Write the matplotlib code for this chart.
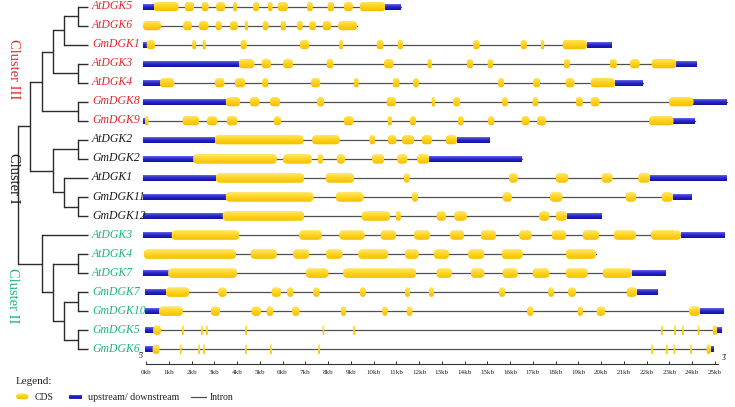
import numpy as np
import matplotlib
matplotlib.use('Agg')
import matplotlib.pyplot as plt
from matplotlib.patches import FancyBboxPatch, Rectangle
from matplotlib.colors import LinearSegmentedColormap

plt.rcParams['font.family'] = ['Liberation Serif', 'DejaVu Serif']

# =========================
# DATA (kb)
# =========================
genes = ['AtDGK5', 'AtDGK6', 'GmDGK1', 'AtDGK3', 'AtDGK4', 'GmDGK8', 'GmDGK9',
         'AtDGK2', 'GmDGK2', 'AtDGK1', 'GmDGK11', 'GmDGK12',
         'AtDGK3', 'AtDGK4', 'AtDGK7', 'GmDGK7', 'GmDGK10', 'GmDGK5', 'GmDGK6']
cluster = ['III'] * 7 + ['I'] * 5 + ['II'] * 7

utr = [
    [(-0.15, 0.35), (10.50, 11.19)],
    [],
    [(-0.15, 0.03), (19.36, 20.43)],
    [(-0.15, 4.09), (23.29, 24.17)],
    [(-0.15, 0.62), (20.59, 21.82)],
    [(-0.15, 3.51), (24.05, 25.54)],
    [(-0.15, -0.04), (23.17, 24.12)],
    [(-0.12, 3.03), (13.65, 15.08)],
    [(-0.12, 2.08), (12.44, 16.50)],
    [(-0.12, 3.08), (22.14, 25.48)],
    [(-0.12, 3.51), (23.14, 23.95)],
    [(-0.12, 3.37), (18.48, 19.98)],
    [(-0.12, 1.13), (23.49, 25.41)],
    [],
    [(-0.12, 0.98), (21.34, 22.80)],
    [(-0.04, 0.88), (21.56, 22.47)],
    [(-0.04, 0.58), (24.34, 25.36)],
    [(-0.04, 0.32), (25.08, 25.26)],
    [(-0.04, 0.29), (24.81, 24.93)],
]

cds = [
    [(0.35, 1.42), (1.71, 2.11), (2.45, 2.74), (3.08, 3.47), (3.84, 3.99), (4.71, 4.96),
     (5.37, 5.55), (5.79, 6.23), (7.09, 7.32), (7.98, 8.26), (8.70, 9.08), (9.40, 10.50)],
    [(-0.12, 0.65), (1.64, 2.01), (2.33, 2.74), (3.06, 3.32), (3.69, 4.03), (4.34, 4.47),
     (5.13, 5.37), (5.92, 6.14), (6.65, 6.87), (7.18, 7.46), (7.76, 8.13), (8.45, 9.26)],
    [(0.03, 0.39), (2.04, 2.20), (2.49, 2.62), (4.16, 4.42), (6.77, 7.16), (8.50, 8.64),
     (10.14, 10.43), (11.06, 11.28), (14.38, 14.65), (16.46, 16.73), (17.35, 17.49), (18.31, 19.36)],
    [(4.09, 4.76), (5.08, 5.48), (6.03, 6.45), (7.94, 8.23), (10.46, 10.87), (12.37, 12.55),
     (14.10, 14.36), (15.01, 15.24), (18.37, 18.63), (20.39, 20.68), (21.27, 21.68), (22.22, 23.29)],
    [(0.62, 1.24), (3.03, 3.44), (3.91, 4.35), (5.11, 5.37), (7.25, 7.65), (9.15, 9.33),
     (10.84, 11.13), (11.74, 11.98), (15.48, 15.73), (17.02, 17.31), (18.44, 18.82), (19.54, 20.59)],
    [(3.51, 4.13), (4.57, 4.98), (5.45, 5.89), (7.53, 7.82), (10.57, 10.98), (12.55, 12.70),
     (13.50, 13.80), (15.65, 15.89), (16.99, 17.23), (18.89, 19.19), (19.54, 19.92), (22.98, 24.05)],
    [(-0.04, 0.10), (1.61, 2.33), (2.69, 3.13), (3.55, 4.01), (5.62, 5.92), (8.70, 9.11),
     (10.62, 10.80), (11.60, 11.86), (13.71, 13.94), (15.04, 15.30), (16.51, 16.84), (17.18, 17.57),
     (22.11, 23.17)],
    [(3.03, 6.91), (7.31, 8.50), (9.82, 10.06), (10.63, 11.00), (11.26, 11.78), (12.12, 12.56),
     (13.18, 13.65)],
    [(2.08, 5.74), (6.03, 7.28), (7.55, 7.77), (8.38, 8.74), (9.94, 10.46), (11.04, 11.48),
     (11.92, 12.44)],
    [(3.08, 6.94), (7.90, 9.14), (11.34, 11.57), (15.95, 16.33), (18.01, 18.55), (20.02, 20.49),
     (21.63, 22.14)],
    [(3.51, 7.35), (8.35, 9.55), (11.70, 11.94), (15.67, 16.07), (17.75, 18.29), (21.08, 21.53),
     (22.66, 23.14)],
    [(3.37, 6.94), (9.48, 10.72), (10.98, 11.19), (12.77, 13.18), (13.55, 14.09), (17.28, 17.72),
     (18.01, 18.48)],
    [(1.13, 4.09), (6.74, 7.72), (8.50, 9.60), (10.31, 10.98), (11.78, 12.48), (13.36, 13.97),
     (14.71, 15.37), (16.40, 16.94), (17.83, 18.45), (19.19, 19.90), (20.56, 21.52), (22.19, 23.49)],
    [(-0.09, 3.95), (4.60, 5.74), (6.47, 7.16), (7.91, 8.63), (9.33, 10.64), (11.38, 11.97),
     (12.65, 13.31), (14.16, 14.86), (15.63, 16.55), (18.45, 19.76)],
    [(0.98, 3.99), (7.03, 8.01), (8.67, 11.86), (12.77, 13.43), (14.28, 14.86), (15.67, 16.33),
     (16.99, 17.72), (18.45, 19.40), (20.07, 21.34)],
    [(0.88, 1.89), (3.18, 3.54), (5.52, 5.93), (6.21, 6.47), (7.35, 7.62), (9.40, 9.65),
     (11.38, 11.60), (12.43, 12.65), (15.52, 15.77), (17.68, 17.93), (18.55, 18.89), (21.12, 21.56)],
    [(0.58, 1.61), (2.86, 3.25), (4.64, 5.04), (5.30, 5.59), (6.43, 6.74), (8.57, 8.79),
     (10.39, 10.61), (11.46, 11.70), (16.75, 17.02), (18.97, 19.19), (19.80, 20.17), (23.87, 24.34)],
    [(0.32, 0.65), (1.58, 1.65), (2.42, 2.49), (2.64, 2.71), (4.36, 4.43), (7.76, 7.83),
     (9.11, 9.18), (22.63, 22.70), (23.21, 23.28), (23.55, 23.62), (24.24, 24.31), (24.90, 25.08)],
    [(0.29, 0.59), (1.48, 1.55), (2.30, 2.37), (2.51, 2.58), (4.35, 4.42), (5.45, 5.52),
     (7.57, 7.64), (22.21, 22.28), (22.84, 22.91), (23.18, 23.25), (23.92, 23.99), (24.63, 24.81)],
]

kb_ticks = list(range(26))

# tree: (node x in px, child, child); leaves = row numbers
tree = (17.7,
        (30, (41.7, (53.3, (64.3, (77.7, 0, 1), 2), (77.7, 3, 4)), (77.7, 5, 6)),
             (53.3, (77.7, 7, 8), (64.3, 9, (77.7, 10, 11)))),
        (41.7, 12, (53.3, (77.7, 13, 14), (64.3, (77.7, 15, 16), (77.7, 17, 18)))))

cluster_col = {'III': '#E5262B', 'I': '#1a1a1a', 'II': '#1BB57A'}

# =========================
# LAYOUT
# =========================
W, H = 735, 407
X0, PXKB = 146, 22.76      # pixel of 0kb, px per kb
Y0, PXROW = 6.7, 19.03     # pixel of row 0, px per row
LEAF_X = 88

yellow = LinearSegmentedColormap.from_list('y', ['#FFE869', '#FFD422', '#F5C000'])
blue = LinearSegmentedColormap.from_list('b', ['#7C7CF2', '#2A2AD2', '#12129A'])
grad = np.linspace(0, 1, 32).reshape(-1, 1)

fig = plt.figure(figsize=(W / 100, H / 100), dpi=100)
ax = fig.add_axes([0, 0, 1, 1])
tax = fig.add_axes([0, 0, 1, 1])
for a in (ax, tax):
    a.axis('off')
    a.patch.set_alpha(0)


def draw_bar(axis, s, e, y, h, cmap, base, rounded, aspect):
    w = e - s
    if rounded:
        r = min(0.17 * PXKB / aspect if aspect == 1 else 0.17, w / 2)
        p = FancyBboxPatch((s, y - h / 2), w, h,
                           boxstyle=f'round,pad=0,rounding_size={r}',
                           mutation_aspect=aspect, fc=base, ec='none', zorder=3)
    else:
        p = Rectangle((s, y - h / 2), w, h, fc=base, ec='none', zorder=2)
    axis.add_patch(p)
    im = axis.imshow(grad, cmap=cmap, extent=[s, e, y + h / 2, y - h / 2],
                     aspect='auto', interpolation='bilinear', zorder=p.get_zorder() + 0.1)
    im.set_clip_path(p)


# =========================
# GENE STRUCTURES
# =========================
for i, (u, c) in enumerate(zip(utr, cds)):
    feats = u + c
    lo = min(s for s, e in feats)
    hi = max(e for s, e in feats)
    ax.plot([lo, hi], [i, i], color='#505050', lw=0.9, zorder=1)
    for s, e in u:
        draw_bar(ax, s, e, i, 0.32, blue, '#2A2AD2', False, PXKB / PXROW)
    for s, e in c:
        draw_bar(ax, s, e, i, 0.48, yellow, '#FFD422', True, PXKB / PXROW)

# scale axis
axis_row = 18.78
ax.plot([0, 25.15], [axis_row, axis_row], color='#333333', lw=0.8)
ax.vlines(kb_ticks, axis_row - 0.18, axis_row, color='#333333', lw=0.7)
for k in kb_ticks:
    ax.text(k, axis_row + 0.45, f'{k}kb', fontsize=5, ha='center', va='center', color='#222222')
ax.text(-0.22, 18.35, "5'", fontsize=5.5, ha='center', va='center')
ax.text(25.4, 18.45, "3'", fontsize=5.5, ha='center', va='center')

ax.set_xlim(-X0 / PXKB, (W - X0) / PXKB)
ax.set_ylim((H - Y0) / PXROW, -Y0 / PXROW)

# =========================
# TREE + LABELS
# =========================
def draw_tree(node):
    if isinstance(node, int):
        return LEAF_X, Y0 + node * PXROW
    x, a, b = node
    xa, ya = draw_tree(a)
    xb, yb = draw_tree(b)
    for cx, cy in ((xa, ya), (xb, yb)):
        tax.plot([x, cx], [cy, cy], color='#2b2b2b', lw=1.0, solid_capstyle='butt')
    tax.plot([x, x], [ya, yb], color='#2b2b2b', lw=1.0, solid_capstyle='projecting')
    return x, (ya + yb) / 2


draw_tree(tree)

for i, name in enumerate(genes):
    tax.text(92, Y0 + i * PXROW - 0.5, name, fontsize=8.5, style='italic',
             color=cluster_col[cluster[i]], ha='left', va='center')

tax.text(13, 69, 'Cluster III', rotation=270, fontsize=10.5, color=cluster_col['III'],
         ha='center', va='center')
tax.text(13, 178, 'Cluster I', rotation=270, fontsize=10.5, color=cluster_col['I'],
         ha='center', va='center')
tax.text(12, 296, 'Cluster II', rotation=270, fontsize=10.5, color=cluster_col['II'],
         ha='center', va='center')

# legend
tax.text(16, 382, 'Legend:', fontsize=8, ha='left', va='center', color='#222222')
draw_bar(tax, 16, 28.5, 396.5, 5.5, yellow, '#FFD422', True, 1)
draw_bar(tax, 69, 82, 396.5, 4, blue, '#2A2AD2', False, 1)
tax.plot([191, 206], [396.5, 396.5], color='#505050', lw=0.9)
tax.text(35, 397, 'CDS', fontsize=7, ha='left', va='center', color='#222222')
tax.text(88, 397, 'upstream/ downstream', fontsize=7.2, ha='left', va='center', color='#222222')
tax.text(210, 397, 'Intron', fontsize=7, ha='left', va='center', color='#222222')

tax.set_xlim(0, W)
tax.set_ylim(H, 0)

fig.savefig('out.png', dpi=100)
